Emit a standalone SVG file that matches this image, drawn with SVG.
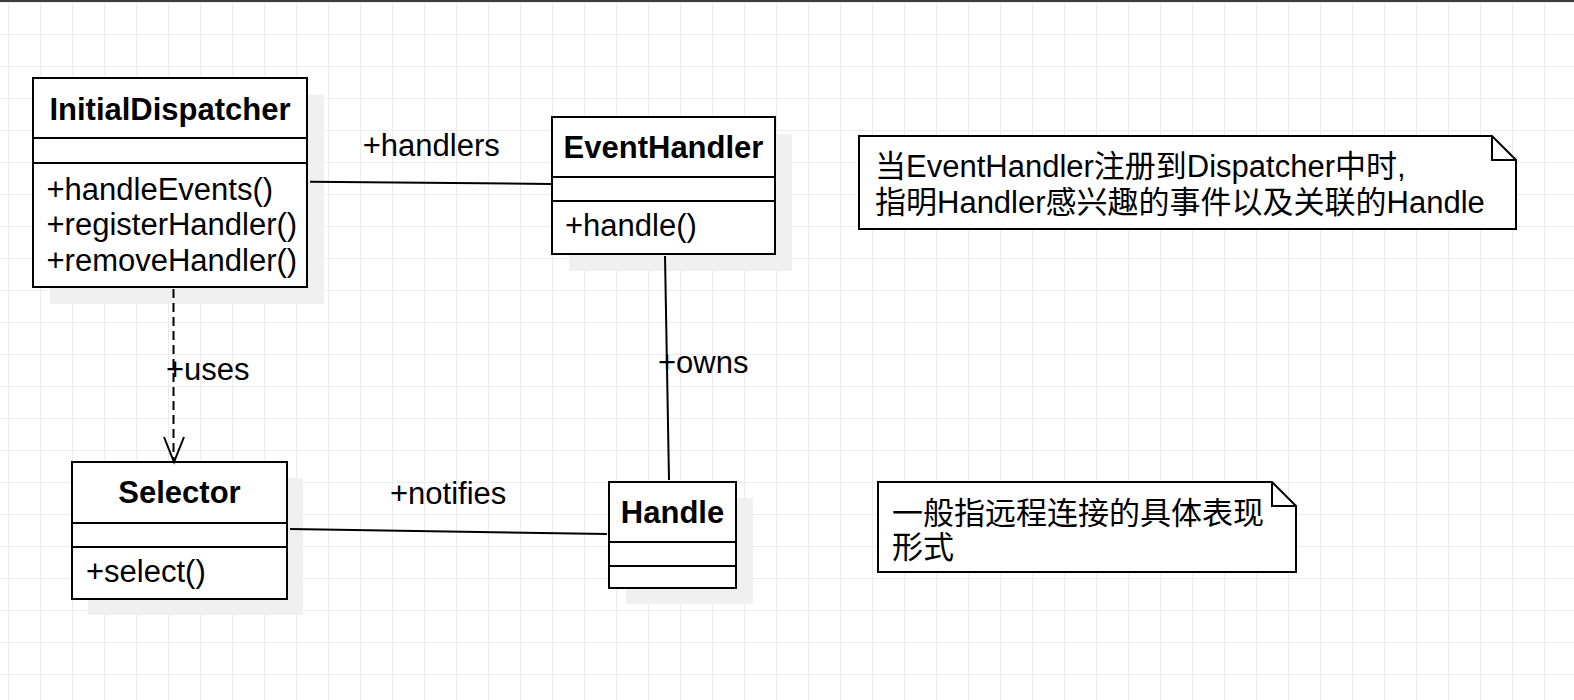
<svg xmlns="http://www.w3.org/2000/svg" width="1574" height="700" viewBox="0 0 1574 700">
<defs>
<pattern id="grid" patternUnits="userSpaceOnUse" x="8" y="2" width="32" height="32">
<rect x="0" y="0" width="1" height="32" fill="#ebebeb"/>
<rect x="0" y="0" width="32" height="1" fill="#ebebeb"/>
</pattern>
<style>
.box{fill:#fff;stroke:#000;stroke-width:2}
.shadow{fill:#f0f0f0}
.div{stroke:#000;stroke-width:2}
.t{font-family:"Liberation Sans","Noto Sans CJK SC",sans-serif;font-size:31px;fill:#000}
.b{font-weight:bold;text-anchor:middle}
.conn{stroke:#000;stroke-width:2;fill:none}
.dash{stroke-dasharray:9 5}
</style>
</defs>
<rect width="1574" height="700" fill="#fff"/>
<rect width="1574" height="700" fill="url(#grid)"/>
<rect x="0" y="0" width="1574" height="2" fill="#3a3d40"/>

<g id="InitialDispatcher">
<rect class="shadow" x="50" y="95" width="274" height="209"/>
<rect class="box" x="33" y="78" width="274" height="209"/>
<line class="div" x1="33" y1="138" x2="307" y2="138"/>
<line class="div" x1="33" y1="163" x2="307" y2="163"/>
<text class="t b" x="170" y="120">InitialDispatcher</text>
<text class="t" x="46.5" y="199.5">+handleEvents()</text>
<text class="t" x="46.5" y="235">+registerHandler()</text>
<text class="t" x="46.5" y="270.5">+removeHandler()</text>
</g>

<g id="EventHandler">
<rect class="shadow" x="569" y="134" width="223" height="137"/>
<rect class="box" x="552" y="117" width="223" height="137"/>
<line class="div" x1="552" y1="177" x2="775" y2="177"/>
<line class="div" x1="552" y1="201" x2="775" y2="201"/>
<text class="t b" x="663.5" y="158.3">EventHandler</text>
<text class="t" x="565" y="236">+handle()</text>
</g>

<g id="Selector">
<rect class="shadow" x="88" y="478" width="215" height="137"/>
<rect class="box" x="72" y="462" width="215" height="137"/>
<line class="div" x1="72" y1="523" x2="287" y2="523"/>
<line class="div" x1="72" y1="547" x2="287" y2="547"/>
<text class="t b" x="179.5" y="502.7">Selector</text>
<text class="t" x="86" y="581.7">+select()</text>
</g>

<g id="Handle">
<rect class="shadow" x="626" y="498" width="127" height="106"/>
<rect class="box" x="609" y="482" width="127" height="106"/>
<line class="div" x1="609" y1="542" x2="736" y2="542"/>
<line class="div" x1="609" y1="566" x2="736" y2="566"/>
<text class="t b" x="672.5" y="522.7">Handle</text>
</g>

<g id="note1">
<path class="box" d="M859 136 H1492 L1516 160 V229 H859 Z"/>
<path class="conn" d="M1492 136 V160 H1516"/>
<text class="t" x="875" y="176.5">当EventHandler注册到Dispatcher中时,</text>
<text class="t" x="875" y="212.5">指明Handler感兴趣的事件以及关联的Handle</text>
</g>

<g id="note2">
<path class="box" d="M878 482 H1272 L1296 506 V572 H878 Z"/>
<path class="conn" d="M1272 482 V506 H1296"/>
<text class="t" x="892" y="524">一般指远程连接的具体表现</text>
<text class="t" x="892" y="558">形式</text>
</g>

<g id="connectors">
<line class="conn" x1="310" y1="181.7" x2="551" y2="184"/>
<line class="conn dash" x1="173.5" y1="289" x2="173.5" y2="460"/>
<polyline class="conn" points="164,437 174,462 184,437"/>
<line class="conn" x1="665" y1="256" x2="669" y2="480"/>
<line class="conn" x1="290" y1="529" x2="607" y2="534"/>
<text class="t" x="362.7" y="155.7">+handlers</text>
<text class="t" x="166" y="380">+uses</text>
<text class="t" x="658" y="373">+owns</text>
<text class="t" x="390" y="504">+notifies</text>
</g>
</svg>
